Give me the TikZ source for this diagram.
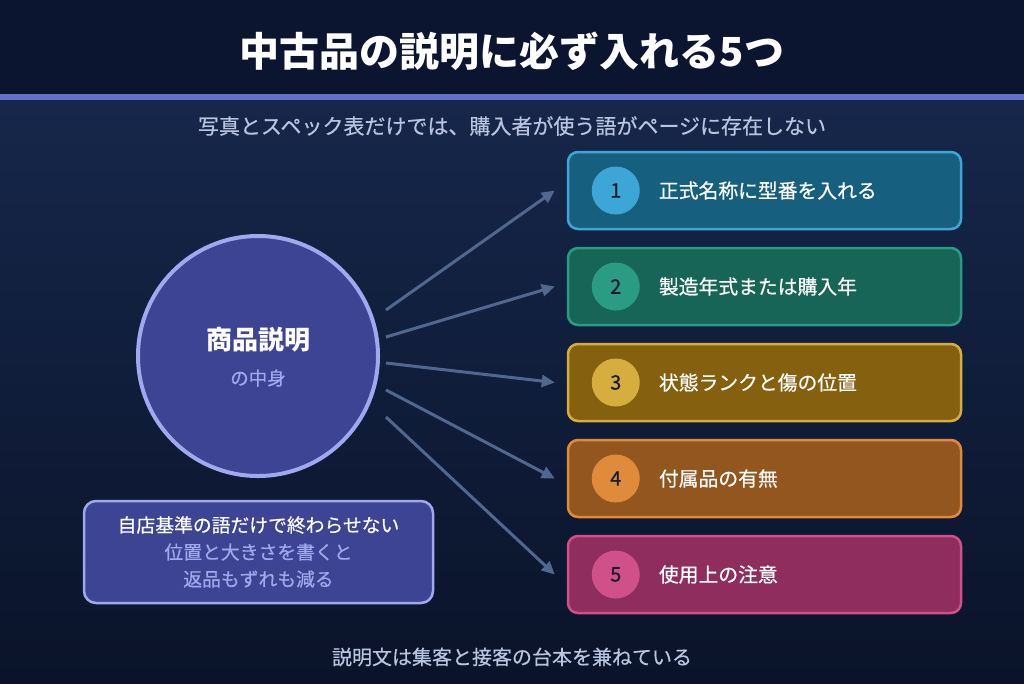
\documentclass[tikz,border=0pt]{standalone}
\usepackage{fontspec}
\setmainfont{Noto Sans CJK JP}
\newfontfamily\medfont{Noto Sans CJK JP}[FakeBold=0.5]
\usetikzlibrary{arrows.meta,positioning}

\definecolor{bgtop}{HTML}{0B1530}
\definecolor{bgmid}{HTML}{16274B}
\definecolor{bgbot}{HTML}{0A1329}
\definecolor{stripe}{HTML}{6470C8}
\definecolor{hubfill}{HTML}{3C4493}
\definecolor{hubline}{HTML}{A0A8EE}
\definecolor{softtext}{HTML}{B8C4E0}
\definecolor{spokecol}{HTML}{50678F}
\definecolor{numtext}{HTML}{1A1A30}
\definecolor{fillA}{HTML}{175F7F}\definecolor{lineA}{HTML}{3EA6D6}
\definecolor{fillB}{HTML}{176556}\definecolor{lineB}{HTML}{2A9C84}
\definecolor{fillC}{HTML}{85600F}\definecolor{lineC}{HTML}{D6AE40}
\definecolor{fillD}{HTML}{94561F}\definecolor{lineD}{HTML}{E08A3C}
\definecolor{fillE}{HTML}{8F2D5E}\definecolor{lineE}{HTML}{D0508A}

\tikzset{
  itembox/.style={draw, line width=2.5pt, rounded corners=10pt, minimum width=393pt, minimum height=77pt, inner sep=0pt},
  badge/.style={circle, minimum size=48pt, inner sep=0pt, text=numtext, font=\medfont\fontsize{20}{24}\selectfont},
  itemtext/.style={anchor=west, inner sep=0pt, text=white, font=\medfont\fontsize{19.8}{24}\selectfont},
  spoke/.style={spokecol, line width=3pt, -{Triangle[length=13pt,width=12pt]}},
}

\begin{document}
\begin{tikzpicture}[x=1pt, y=-1pt]
    % Fondo: banda superior, franja y degradado
    \useasboundingbox (0,0) rectangle (1024,683);
    \fill[bgtop] (0,0) rectangle (1024,94);
    \shade[top color=bgmid, bottom color=bgbot] (0,100) rectangle (1024,683);
    \fill[stripe] (0,94) rectangle (1024,100);

    % Titulo y subtitulo
    \node[text=white, font=\fontsize{40}{46}\selectfont\bfseries] (title) at (512,51) {中古品の説明に必ず入れる5つ};
    \node[text=softtext, font=\medfont\fontsize{21}{25}\selectfont] (subtitle) at (512,126) {写真とスペック表だけでは、購入者が使う語がページに存在しない};

    % Circulo central
    \node[circle, fill=hubfill, draw=hubline, line width=4pt, minimum size=240pt] (hub) at (258,356) {};
    \node[text=white, font=\fontsize{26}{30}\selectfont\bfseries] (hubtitle) at ([shift={(0,-16)}]hub.center) {商品説明};
    \node[text=hubline, font=\medfont\fontsize{18.5}{22}\selectfont] (hubsub) at ([shift={(0,22)}]hub.center) {の中身};

    % Las cinco tarjetas
    \node[itembox, fill=fillA, draw=lineA] (b1) at (764.5,190.5) {};
    \node[badge, fill=lineA] (n1) at ([xshift=49pt]b1.west) {1};
    \node[itemtext] (t1) at ([xshift=92pt]b1.west) {正式名称に型番を入れる};

    \node[itembox, fill=fillB, draw=lineB] (b2) at (764.5,286.5) {};
    \node[badge, fill=lineB] (n2) at ([xshift=49pt]b2.west) {2};
    \node[itemtext] (t2) at ([xshift=92pt]b2.west) {製造年式または購入年};

    \node[itembox, fill=fillC, draw=lineC] (b3) at (764.5,382.5) {};
    \node[badge, fill=lineC] (n3) at ([xshift=49pt]b3.west) {3};
    \node[itemtext] (t3) at ([xshift=92pt]b3.west) {状態ランクと傷の位置};

    \node[itembox, fill=fillD, draw=lineD] (b4) at (764.5,478.5) {};
    \node[badge, fill=lineD] (n4) at ([xshift=49pt]b4.west) {4};
    \node[itemtext] (t4) at ([xshift=92pt]b4.west) {付属品の有無};

    \node[itembox, fill=fillE, draw=lineE] (b5) at (764.5,574.5) {};
    \node[badge, fill=lineE] (n5) at ([xshift=49pt]b5.west) {5};
    \node[itemtext] (t5) at ([xshift=92pt]b5.west) {使用上の注意};

    % Flechas desde el circulo
    \draw[spoke] ([shift={(6,-46)}]hub.east) -- ([xshift=-12pt]b1.west);
    \draw[spoke] ([shift={(6,-19)}]hub.east) -- ([xshift=-12pt]b2.west);
    \draw[spoke] ([shift={(6,7)}]hub.east) -- ([xshift=-12pt]b3.west);
    \draw[spoke] ([shift={(6,34)}]hub.east) -- ([xshift=-12pt]b4.west);
    \draw[spoke] ([shift={(6,61)}]hub.east) -- ([xshift=-12pt]b5.west);

    % Nota inferior
    \node[draw=hubline, fill=hubfill, line width=2.5pt, rounded corners=12pt, minimum width=349pt, minimum height=102pt,
          align=center, text=hubline, font=\medfont\fontsize{18.8}{27}\selectfont] (note) at (258.5,552)
          {\textcolor{white}{自店基準の語だけで終わらせない}\\位置と大きさを書くと\\返品もずれも減る};

    % Pie
    \node[text=softtext, font=\medfont\fontsize{20}{24}\selectfont] (footer) at (512,657) {説明文は集客と接客の台本を兼ねている};
\end{tikzpicture}
\end{document}
